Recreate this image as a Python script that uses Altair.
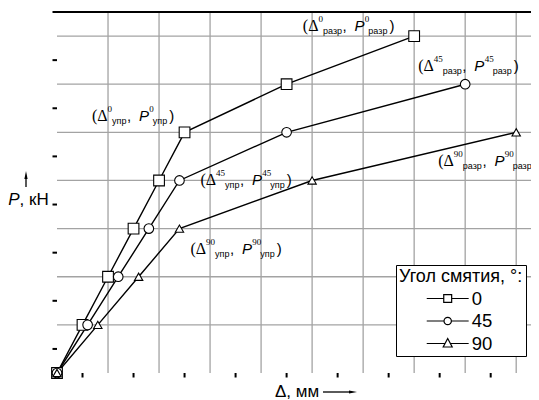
import altair as alt
import pandas as pd

# ---------------- data ----------------
angles = ["0", "45", "90"]
delta_0 = [0, 0.5, 1.0, 1.5, 2.0, 2.5, 4.5, 7.0]
p_0 = [0, 1, 2, 3, 4, 5, 6, 7]
delta_45 = [0, 0.6, 1.2, 1.8, 2.4, 4.5, 8.0]
p_45 = [0, 1, 2, 3, 4, 5, 6]
delta_90 = [0, 0.8, 1.6, 2.4, 5.0, 9.0]
p_90 = [0, 1, 2, 3, 4, 5]

x_major = [0, 1, 2, 3, 4, 5, 6, 7, 8, 9]
x_minor = [0.5, 1.5, 2.5, 3.5, 4.5, 5.5, 6.5, 7.5, 8.5]
x_grid = [1, 2, 3, 4, 5, 6, 7, 8, 9]
y_major = [0, 1, 2, 3, 4, 5, 6, 7]
y_minor = [0.5, 1.5, 2.5, 3.5, 4.5, 5.5, 6.5, 7.5]
y_grid = [1, 2, 3, 4, 5, 6, 7]

legend_title = "Угол смятия, °:"
y_title_italic = "P"
y_title_rest = ", кН"
x_title = "Δ, мм"
stage_elastic = "упр"
stage_break = "разр"

# ---------------- layout constants ----------------
W, H = 474, 361
X_MAX, Y_MAX = 9.29, 7.5
SANS = "Liberation Sans"
SERIF = "Liberation Serif"
GRID = "#a3a3a3"

rows = []
for ang, dx_, py_ in [("0", delta_0, p_0), ("45", delta_45, p_45), ("90", delta_90, p_90)]:
    for i, (a, b) in enumerate(zip(dx_, py_)):
        rows.append({"angle": ang, "delta": a, "p": b, "order": i})
df = pd.DataFrame(rows)

xscale = alt.Scale(domain=[0, X_MAX], nice=False, zero=False)
yscale = alt.Scale(domain=[0, Y_MAX], nice=False, zero=False)

x_axis = alt.Axis(
    values=x_major, labels=False, title=None, grid=False,
    domainColor="black", domainWidth=3,
    tickColor="black", tickWidth=2, tickSize=8, zindex=1,
)
y_axis = alt.Axis(
    values=y_major, labels=False, title=None, grid=False,
    domainColor="black", domainWidth=3,
    tickColor="black", tickWidth=2, tickSize=8, zindex=1,
)

# grid lines and minor ticks
xg = alt.Chart(pd.DataFrame({"v": x_grid})).mark_rule(color=GRID, strokeWidth=1.3).encode(
    x=alt.X("v:Q", scale=xscale, axis=None), y=alt.value(0), y2=alt.value(H))
yg = alt.Chart(pd.DataFrame({"v": y_grid})).mark_rule(color=GRID, strokeWidth=1.3).encode(
    y=alt.Y("v:Q", scale=yscale, axis=None), x=alt.value(0), x2=alt.value(W))
xmin = alt.Chart(pd.DataFrame({"v": x_minor})).mark_rule(color="black", strokeWidth=2).encode(
    x=alt.X("v:Q", scale=xscale, axis=None), y=alt.value(H), y2=alt.value(H + 4.5))
ymin = alt.Chart(pd.DataFrame({"v": y_minor})).mark_rule(color="black", strokeWidth=2).encode(
    y=alt.Y("v:Q", scale=yscale, axis=None), x=alt.value(0), x2=alt.value(-4.5))

base = alt.Chart(df)
lines = base.mark_line(color="black", strokeWidth=1.4).encode(
    x=alt.X("delta:Q", scale=xscale, axis=x_axis),
    y=alt.Y("p:Q", scale=yscale, axis=y_axis),
    detail="angle:N",
    order="order:Q",
)
points = base.mark_point(filled=True, fill="white", stroke="black", strokeWidth=1.1, opacity=1).encode(
    x="delta:Q",
    y="p:Q",
    shape=alt.Shape("angle:N", scale=alt.Scale(domain=angles, range=["square", "circle", "triangle-up"]), legend=None),
    size=alt.Size("angle:N", scale=alt.Scale(domain=angles, range=[115, 70, 110]), legend=None),
)

# legend symbols: line - marker - line (centred, unit = 9 px)
legend_paths = [
    "M-2.33,0H-0.44M0.44,0H2.33M-0.44,-0.44H0.44V0.44H-0.44Z",
    "M-2.33,0H-0.41M0.41,0H2.33M-0.41,0A0.41,0.41 0 1,0 0.41,0A0.41,0.41 0 1,0 -0.41,0Z",
    "M-2.33,0H-0.29M0.29,0H2.33M0,-0.55L0.5,0.39L-0.5,0.39Z",
]
legend_layer = base.mark_point(filled=False, color="black", strokeWidth=1.2, opacity=1).encode(
    x="delta:Q",
    y="p:Q",
    size=alt.value(0),
    shape=alt.Shape(
        "angle:N",
        scale=alt.Scale(domain=angles, range=legend_paths),
        legend=alt.Legend(
            title=legend_title, orient="none", legendX=339, legendY=253,
            titleFont=SANS, titleFontSize=18, titleFontWeight="normal", titleColor="black",
            titlePadding=2.5, titleAnchor="start",
            labelFont=SANS, labelFontSize=18.5, labelColor="black", labelOffset=14,
            symbolSize=324, symbolOffset=38.7,
            symbolStrokeColor="black", symbolStrokeWidth=1.2,
            rowPadding=2.5, padding=3,
            strokeColor="black", fillColor="white", cornerRadius=0,
        ),
    ),
)

top_line = alt.Chart(pd.DataFrame({"k": [0]})).mark_rule(color="black", strokeWidth=2).encode(
    x=alt.value(0), x2=alt.value(W), y=alt.value(0)
)

# ---------------- annotations ----------------
SUB_W = {"у": 0.5, "п": 0.547, "р": 0.556, "а": 0.556, "з": 0.45}


def sub_width(s, size):
    return sum(SUB_W.get(c, 0.55) for c in s) * size


def annotation(xv, yv, sup, sub, ox, oy):
    d = pd.DataFrame({"x": [xv], "y": [yv]})
    pieces = []
    pos = 0.0
    pieces.append(("(", SERIF, 16, "normal", pos, 0)); pos += 0.333 * 16
    pieces.append(("Δ", SERIF, 16, "normal", pos, 0)); pos += 0.612 * 16
    supx = pos + 0.5
    supw = 0.5 * 9 * len(sup)
    pieces.append((sup, SERIF, 9, "normal", supx, -9))
    subx = supx + supw
    pieces.append((sub, SANS, 9, "normal", subx, 3))
    pos = subx + sub_width(sub, 9) + 0.5
    pieces.append((",", SANS, 15, "normal", pos, 0)); pos += 12
    pieces.append(("P", SANS, 15, "italic", pos, 0)); pos += 0.667 * 15
    supx = pos + 0.3
    pieces.append((sup, SERIF, 9, "normal", supx, -9))
    subx = supx + supw - 1
    pieces.append((sub, SANS, 9, "normal", subx, 3))
    pos = subx + sub_width(sub, 9) + 2
    pieces.append((")", SANS, 15, "normal", pos, 0))
    out = []
    for txt, font, size, style, px, py in pieces:
        out.append(
            alt.Chart(d).mark_text(
                align="left", baseline="alphabetic", font=font, fontSize=size,
                fontStyle=style, color="black", dx=ox + px, dy=oy + py,
            ).encode(x="x:Q", y="y:Q", text=alt.value(txt))
        )
    return out


ann_layers = []
ann_layers += annotation(delta_0[5], p_0[5], angles[0], stage_elastic, -92.6, -11)
ann_layers += annotation(delta_0[7], p_0[7], angles[0], stage_break, -111.3, -5)
ann_layers += annotation(delta_45[6], p_45[6], angles[1], stage_break, -47, -13.5)
ann_layers += annotation(delta_90[5], p_90[5], angles[2], stage_break, -78, 33.5)
ann_layers += annotation(delta_45[4], p_45[4], angles[1], stage_elastic, 21, 5)
ann_layers += annotation(delta_90[3], p_90[3], angles[2], stage_elastic, 11, 25.2)

# ---------------- axis titles with arrows ----------------
one = pd.DataFrame({"k": [0]})
y_title_a = alt.Chart(one).mark_text(align="left", baseline="alphabetic", font=SANS, fontSize=17,
                                     fontStyle="italic", color="black").encode(
    x=alt.value(-48.7), y=alt.value(193), text=alt.value(y_title_italic))
y_title_b = alt.Chart(one).mark_text(align="left", baseline="alphabetic", font=SANS, fontSize=17,
                                     color="black").encode(
    x=alt.value(-37.5), y=alt.value(193), text=alt.value(y_title_rest))
y_arrow = alt.Chart(one).mark_rule(color="black", strokeWidth=1.3).encode(
    x=alt.value(-31), y=alt.value(175), y2=alt.value(164))
y_head = alt.Chart(one).mark_point(shape="M0,-1L0.4,1L-0.4,1Z", filled=True, color="black",
                                   size=64, opacity=1).encode(x=alt.value(-31), y=alt.value(163))
x_title_t = alt.Chart(one).mark_text(align="left", baseline="alphabetic", font=SANS, fontSize=17,
                                     color="black").encode(
    x=alt.value(218), y=alt.value(385), text=alt.value(x_title))
x_arrow = alt.Chart(one).mark_rule(color="black", strokeWidth=1.3).encode(
    x=alt.value(266), x2=alt.value(293), y=alt.value(380))
x_head = alt.Chart(one).mark_point(shape="M1,0L-1,0.4L-1,-0.4Z", filled=True, color="black",
                                   size=64, opacity=1).encode(x=alt.value(296), y=alt.value(380))

chart = alt.layer(
    xg, yg, xmin, ymin, lines, legend_layer, points, top_line, *ann_layers,
    y_title_a, y_title_b, y_arrow, y_head, x_title_t, x_arrow, x_head,
).resolve_scale(shape="independent", size="independent").properties(
    width=W, height=H,
    autosize=alt.AutoSizeParams(type="none"),
    padding={"left": 49, "top": 4, "right": 0, "bottom": 27},
    background="white",
).configure_view(stroke=None)

chart.save("out.html", embed_options={"renderer": "svg", "actions": False})
